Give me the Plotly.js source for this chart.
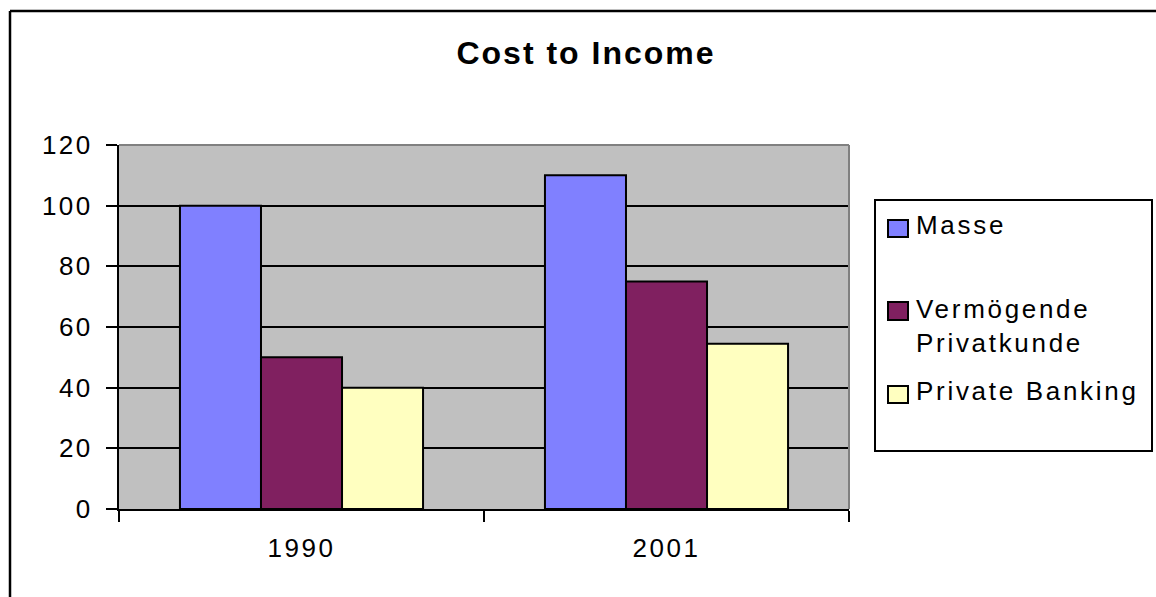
<!DOCTYPE html>
<html>
<head>
<meta charset="utf-8">
<script src="https://cdn.plot.ly/plotly-3.0.1.min.js"></script>
<style>
  html, body { margin: 0; padding: 0; background: #ffffff; }
  #chart { width: 1156px; height: 597px; }
  .xtick text, .ytick text { letter-spacing: 2.5px; }
  .gtitle { letter-spacing: 2px; }
  .annotation-text { letter-spacing: 2.7px; }
</style>
</head>
<body>
<div id="chart"></div>
<script>
// ---- data ----
const categories = ["1990", "2001"];
const seriesNames = ["Masse", "Vermögende Privatkunde", "Private Banking"];
const legendLabels = [["Masse"], ["Vermögende", "Privatkunde"], ["Private Banking"]];
const masse = [100, 110];
const vermoegende = [50, 75];
const privateBanking = [40, 54.5];
const seriesColors = ["#8080ff", "#802060", "#ffffc0"];
const yTicks = [0, 20, 40, 60, 80, 100, 120];

const values = [masse, vermoegende, privateBanking];

// plot-area geometry (pixels) used for paper conversions
const W = 1156, H = 597;
const L = 119, R = 849, T = 145, B = 509;
const px = x => (x - L) / (R - L);
const py = y => (B - y) / (B - T);

const traces = values.map((v, i) => ({
  type: "bar",
  name: seriesNames[i],
  x: categories,
  y: v,
  marker: { color: seriesColors[i], line: { color: "#000000", width: 2 } },
  showlegend: false,
  hoverinfo: "skip"
}));

const font = "Liberation Sans, Arial, sans-serif";

const shapes = [
  // outer chart frame (left and top edges)
  { type: "line", xref: "paper", yref: "paper", x0: px(10), x1: px(10), y0: py(11), y1: py(620), line: { color: "#000", width: 2.5 } },
  { type: "line", xref: "paper", yref: "paper", x0: px(10), x1: px(1200), y0: py(11), y1: py(11), line: { color: "#000", width: 2.5 } },
  // plot area grey border top & right
  { type: "line", xref: "paper", yref: "paper", x0: 0, x1: 1, y0: 1, y1: 1, line: { color: "#808080", width: 2 }, layer: "above" },
  { type: "line", xref: "paper", yref: "paper", x0: 1, x1: 1, y0: 0, y1: 1, line: { color: "#808080", width: 2 }, layer: "above" },
  // legend box
  { type: "rect", xref: "paper", yref: "paper", x0: px(875), x1: px(1152), y0: py(451), y1: py(200), line: { color: "#000", width: 2 }, fillcolor: "rgba(0,0,0,0)" }
];

// legend squares and labels
const sq = [[220, 237], [302, 320], [386, 403]];
const lineCenters = [[225], [309, 343], [391]];
const annotations = [];
for (let i = 0; i < seriesNames.length; i++) {
  shapes.push({ type: "rect", xref: "paper", yref: "paper", x0: px(888), x1: px(908), y0: py(sq[i][1]), y1: py(sq[i][0]), fillcolor: seriesColors[i], line: { color: "#000", width: 2 } });
  legendLabels[i].forEach((t, j) => {
    annotations.push({ xref: "paper", yref: "paper", x: px(914), y: py(lineCenters[i][j]), xanchor: "left", yanchor: "middle", text: t, showarrow: false, font: { family: font, size: 26, color: "#000" } });
  });
}

const layout = {
  width: W, height: H,
  margin: { l: L, r: W - R, t: T, b: H - B, pad: 0 },
  paper_bgcolor: "#ffffff",
  plot_bgcolor: "#c0c0c0",
  barmode: "group",
  bargap: 0.334,
  bargroupgap: 0,
  showlegend: false,
  title: {
    text: "<b>Cost to Income</b>",
    font: { family: font, size: 32, color: "#000" },
    xref: "paper", x: px(586), xanchor: "center",
    yref: "container", y: 1 - 53 / H, yanchor: "middle"
  },
  xaxis: {
    type: "category",
    tickson: "boundaries",
    ticks: "outside", ticklen: 11, tickwidth: 2, tickcolor: "#000",
    showline: true, linecolor: "#000", linewidth: 2,
    showgrid: false,
    tickfont: { family: font, size: 26, color: "#000" },
    ticklabelstandoff: 15
  },
  yaxis: {
    range: [0, 120],
    tickvals: yTicks,
    ticks: "outside", ticklen: 11, tickwidth: 2, tickcolor: "#000",
    showline: true, linecolor: "#000", linewidth: 2,
    showgrid: true, gridcolor: "#000", gridwidth: 2,
    zeroline: false,
    tickfont: { family: font, size: 26, color: "#000" },
    ticklabelstandoff: 8
  },
  shapes: shapes,
  annotations: annotations
};

Plotly.newPlot("chart", traces, layout, { staticPlot: true, displayModeBar: false });
</script>
</body>
</html>
